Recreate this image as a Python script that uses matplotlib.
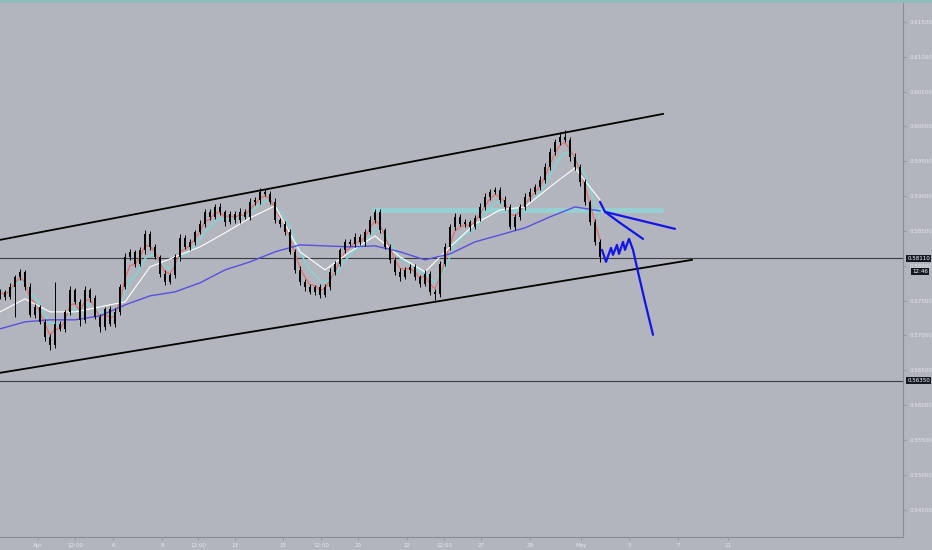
import numpy as np
import pandas as pd
import matplotlib
matplotlib.use('Agg')
import matplotlib.pyplot as plt

# prices in 1e-5 units (pips), one candle per bar
closes = [57625, 57554, 57697, 57841, 57912, 57697, 57295, 57410, 57195, 56980,
          56865, 57166, 57094, 57338, 57654, 57482, 57224, 57654, 57539, 57267,
          57123, 57381, 57166, 57338, 57697, 58128, 58200, 58027, 58228, 58458,
          58271, 58128, 57884, 57769, 57870, 58128, 58400, 58271, 58343, 58487,
          58601, 58774, 58702, 58845, 58774, 58630, 58745, 58659, 58774, 58702,
          58917, 58946, 59061, 59032, 58917, 58659, 58601, 58487, 58200, 57941,
          57769, 57697, 57626, 57697, 57582, 57697, 57912, 58027, 58228, 58343,
          58314, 58415, 58343, 58487, 58659, 58774, 58515, 58271, 58085, 57912,
          57841, 57941, 57984, 57841, 57740, 57884, 57626, 57597, 58027, 58271,
          58558, 58702, 58601, 58630, 58558, 58687, 58845, 58989, 59061, 59089,
          58946, 58845, 58558, 58702, 58845, 58989, 59061, 59132, 59233, 59420,
          59635, 59778, 59850, 59807, 59563, 59420, 59204, 58917, 58630, 58343,
          58128]
wick_up = [40, 30, 55, 25, 45, 30, 60, 35, 20, 40,
           35, 600, 45, 30, 50, 25, 40, 55, 30, 35,
           40, 30, 45, 60, 35, 50, 40, 30, 45, 55,
           35, 40, 25, 50, 30, 45, 55, 35, 40, 30,
           50, 45, 35, 40, 55, 30, 45, 35, 50, 40,
           60, 45, 50, 35, 40, 55, 30, 45, 35, 40,
           50, 35, 45, 30, 40, 35, 55, 45, 30, 40,
           35, 50, 40, 45, 55, 35, 40, 30, 45, 35,
           50, 40, 35, 45, 30, 55, 40, 45, 35, 50,
           40, 55, 35, 45, 30, 40, 50, 60, 45, 35,
           40, 50, 35, 45, 40, 55, 50, 45, 60, 55,
           50, 45, 70, 100, 40, 50, 35, 40, 30, 35,
           40]
wick_dn = [35, 45, 30, 430, 40, 50, 35, 45, 30, 55,
           71, 40, 35, 50, 45, 30, 87, 40, 55, 35,
           71, 45, 30, 40, 50, 35, 45, 40, 30, 55,
           40, 35, 50, 45, 30, 40, 55, 35, 45, 40,
           30, 50, 40, 35, 45, 55, 30, 40, 50, 35,
           45, 40, 55, 30, 35, 50, 45, 40, 35, 45,
           40, 55, 30, 45, 50, 35, 40, 45, 30, 50,
           35, 45, 40, 55, 30, 40, 50, 35, 45, 40,
           55, 30, 45, 40, 50, 35, 45, 86, 40, 35,
           50, 45, 30, 40, 55, 35, 45, 40, 50, 30,
           45, 40, 35, 50, 45, 40, 55, 35, 45, 50,
           40, 45, 50, 35, 55, 40, 60, 50, 45, 40,
           80]
first_open = 57560

# moving averages, one point every 5 bars
ma_bars = [0, 5, 10, 15, 20, 25, 30, 35, 40, 45, 50, 55, 60, 65, 70, 75, 80, 85,
           90, 95, 100, 105, 110, 115, 120]
ma_blue = [57094, 57195, 57224, 57224, 57281, 57438, 57568, 57625, 57755, 57941,
           58056, 58200, 58300, 58286, 58271, 58286, 58200, 58085, 58171, 58343,
           58443, 58544, 58702, 58845, 58788]
ma_white = [57338, 57525, 57338, 57338, 57410, 57482, 57984, 58128, 58271, 58472,
            58687, 58860, 58200, 57941, 58200, 58429, 58128, 57912, 58271, 58601,
            58802, 58845, 59132, 59405, 58946]

# drawings
chan_up_x, chan_up_y = [0, 132.6], [58372, 60180]
chan_dn_x, chan_dn_y = [0, 138.4], [56463, 58085]
level_a, level_b = 58110, 56350
zone_x, zone_y = [74.4, 132.6], [58802, 58802]
draw1_x, draw1_y = [120, 121, 135], [58917, 58774, 58530]
draw2_x, draw2_y = [121, 124, 128.6], [58774, 58616, 58386]
draw3_x = [120.4, 121.2, 122.2, 122.6, 123.4, 123.8, 124.6, 125, 125.8, 126.6,
           127.6, 129, 130.6]
draw3_y = [58229, 58057, 58257, 58157, 58300, 58171, 58343, 58229, 58386, 58229,
           57912, 57482, 57009]

price_ticks = [0.545, 0.55, 0.555, 0.56, 0.565, 0.57, 0.575, 0.58, 0.585, 0.59,
               0.595, 0.60, 0.605, 0.61, 0.615]
time_pos = [7.6, 15, 22.6, 32.4, 39.6, 47, 56.6, 64.2, 71.6, 81.4, 88.8, 96.2,
            106, 116.2, 125.8, 135.6, 145.6]
time_lbl = ['Apr', '12:00', '6', '8', '12:00', '13', '15', '12:00', '20', '22',
            '12:00', '27', '29', 'May', '5', '7', '11']

bg = '#b2b5be'
txt = '#e6e7ea'

c = np.array(closes) / 1e5
o = np.concatenate([[first_open / 1e5], c[:-1]])
h = np.maximum(o, c) + np.array(wick_up) / 1e5
l = np.minimum(o, c) - np.array(wick_dn) / 1e5
idx = np.arange(len(c))

fig = plt.figure(figsize=(9.32, 5.5), dpi=100, facecolor=bg)
ax = fig.add_axes([0, 13 / 550, 903 / 932, 535 / 550], facecolor=bg)

# short averages follow the closes
s = pd.Series(c)
ax.plot(idx, s.ewm(span=6).mean(), color='#7fd8d4', lw=1.0, zorder=2)
ax.plot(idx, s.ewm(span=3).mean(), color='#e07070', lw=0.9, zorder=2)
ax.plot(ma_bars, np.array(ma_white) / 1e5, color='white', lw=0.8, zorder=2)
ax.plot(ma_bars, np.array(ma_blue) / 1e5, color='#5a4fe0', lw=1.0, zorder=2)

# candles
ax.vlines(idx, l, h, color='black', lw=0.7, zorder=3)
ax.bar(idx, np.abs(c - o) + 1e-5, bottom=np.minimum(o, c), width=0.45,
       color='black', zorder=3)

ax.plot(zone_x, np.array(zone_y) / 1e5, color='#8fd8d8', lw=3.5, alpha=0.8,
        zorder=1, solid_capstyle='butt')
ax.axhline(level_a / 1e5, color='#3a3c42', lw=0.8, zorder=1)
ax.axhline(level_b / 1e5, color='#3a3c42', lw=0.8, zorder=1)
ax.plot(chan_up_x, np.array(chan_up_y) / 1e5, color='black', lw=1.3, zorder=4)
ax.plot(chan_dn_x, np.array(chan_dn_y) / 1e5, color='black', lw=1.3, zorder=4)

for xs, ys in [(draw1_x, draw1_y), (draw2_x, draw2_y), (draw3_x, draw3_y)]:
    ax.plot(xs, np.array(ys) / 1e5, color='#1414e6', lw=1.6, zorder=5,
            solid_joinstyle='round', solid_capstyle='round')

ax.set_xlim(0, 180.6)
ax.set_ylim(0.54106, 0.61787)

ax.yaxis.tick_right()
ax.set_yticks(price_ticks)
ax.set_yticklabels(['%.5f' % v for v in price_ticks])
ax.tick_params(axis='y', colors='#8a8d96', labelcolor=txt, labelsize=4,
               length=2, width=0.5, pad=3)
ax.set_xticks(time_pos)
ax.set_xticklabels(time_lbl)
ax.tick_params(axis='x', colors='#8a8d96', labelcolor=txt, labelsize=4,
               length=2, width=0.5, pad=2)
for side in ['top', 'left']:
    ax.spines[side].set_visible(False)
ax.spines['right'].set_color('#8a8d96')
ax.spines['right'].set_linewidth(0.8)
ax.spines['bottom'].set_color('#8a8d96')
ax.spines['bottom'].set_linewidth(0.8)

# price tags on the scale
tag = dict(boxstyle='square,pad=0.2', fc='#131722', ec='none')
ax.text(1.005, level_a / 1e5, '%.5f' % (level_a / 1e5), transform=ax.get_yaxis_transform(),
        fontsize=4, color='white', va='center', ha='left', bbox=tag, zorder=6)
ax.text(1.01, level_a / 1e5 - 0.0019, '12:46', transform=ax.get_yaxis_transform(),
        fontsize=4, color='white', va='center', ha='left', bbox=tag, zorder=6)
ax.text(1.005, level_b / 1e5, '%.5f' % (level_b / 1e5), transform=ax.get_yaxis_transform(),
        fontsize=4, color='white', va='center', ha='left', bbox=tag, zorder=6)

fig.add_artist(plt.Line2D([0, 1], [0.998, 0.998], color='#8fbcbc', lw=2))

plt.savefig('out.png', dpi=100, facecolor=bg)
